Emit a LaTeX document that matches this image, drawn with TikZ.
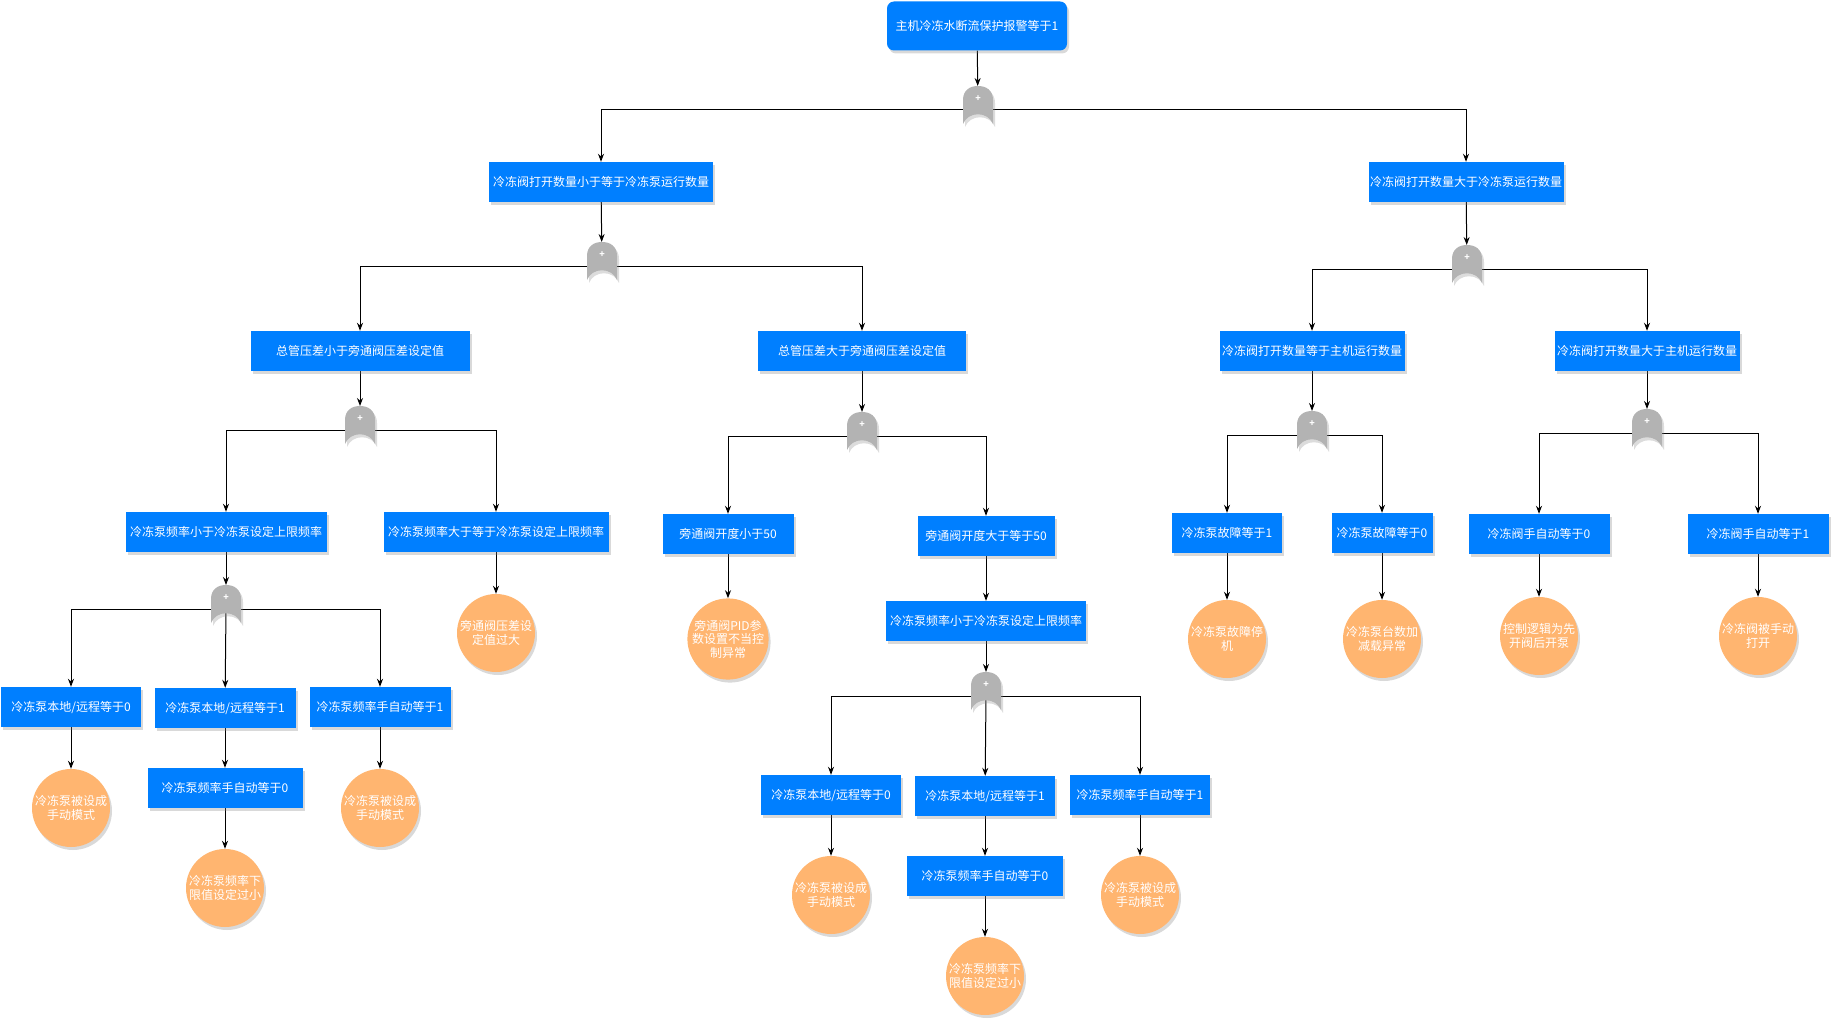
\documentclass[tikz,border=0pt]{standalone}
\usepackage{fontspec}
\setmainfont{Noto Sans CJK SC}
\usepackage{tikz}
\usetikzlibrary{backgrounds}
\usetikzlibrary{arrows.meta,shadows}

\definecolor{boxblue}{HTML}{007FFF}
\definecolor{leaforange}{HTML}{FFB570}
\definecolor{gategray}{HTML}{B3B3B3}

% or-gate outline, y axis pointing down
\newcommand{\gateshape}[3]{%
  \fill[#1,shift={(#2,#3)}] (-15,14) -- (-15,-10) .. controls (-15,-20) and (-8,-24) .. (0,-24)
    .. controls (8,-24) and (15,-20) .. (15,-10) -- (15,14) .. controls (10,1) and (-10,1) .. (-15,14) -- cycle;}
\newcommand{\orgate}[3]{%
  \gateshape{black!45,opacity=.3}{#2+2}{#3+3}
  \gateshape{gategray}{#2}{#3}
  \node[gate] (#1) at (#2,#3) {};}

\begin{document}
\begin{tikzpicture}[x=1pt,y=-1pt,font=\fontsize{12}{13.5}\selectfont,
box/.style={rectangle,fill=boxblue,text=white,minimum height=40,inner sep=1.5pt,
  drop shadow={shadow xshift=2pt,shadow yshift=-3pt,opacity=.3}},
topbox/.style={box,rounded corners=7pt,minimum height=49},
leaf/.style={circle,fill=leaforange,text=white,minimum size=78,inner sep=0pt,align=center,
  drop shadow={shadow xshift=2pt,shadow yshift=-3pt,opacity=.3}},
gate/.style={minimum width=30,minimum height=48,inner sep=0pt,outer sep=0pt,label={[plus]north:+}},
plus/.style={anchor=center,yshift=-13pt,text=white,font=\bfseries\fontsize{9}{9}\selectfont},
arr/.style={-{Stealth[length=8pt,width=6pt]},line width=1pt}]
\useasboundingbox (0,0) rectangle (1839,1027);

% top event
\node[topbox,minimum width=180] (top) at (977,26) {主机冷冻水断流保护报警等于1};
\orgate{g0}{978}{110}

% level 1
\node[box,minimum width=224] (A) at (601,182) {冷冻阀打开数量小于等于冷冻泵运行数量};
\node[box,minimum width=194] (B) at (1466,182) {冷冻阀打开数量大于冷冻泵运行数量};
\orgate{gA}{602}{266}
\orgate{gB}{1467}{269}

% level 2
\node[box,minimum width=219] (A1) at (360,351) {总管压差小于旁通阀压差设定值};
\node[box,minimum width=208] (A2) at (862,351) {总管压差大于旁通阀压差设定值};
\node[box,minimum width=185] (B1) at (1312,351) {冷冻阀打开数量等于主机运行数量};
\node[box,minimum width=185] (B2) at (1647,351) {冷冻阀打开数量大于主机运行数量};
\orgate{gA1}{360}{430}
\orgate{gA2}{862}{436}
\orgate{gB1}{1312}{435}
\orgate{gB2}{1647}{433}

% level 3
\node[box,minimum width=201] (A11) at (226,532) {冷冻泵频率小于冷冻泵设定上限频率};
\node[box,minimum width=225] (A12) at (496,532) {冷冻泵频率大于等于冷冻泵设定上限频率};
\node[box,minimum width=131] (A21) at (728,534) {旁通阀开度小于50};
\node[box,minimum width=137] (A22) at (986,536) {旁通阀开度大于等于50};
\node[box,minimum width=110] (B11) at (1227,533) {冷冻泵故障等于1};
\node[box,minimum width=101] (B12) at (1382,533) {冷冻泵故障等于0};
\node[box,minimum width=141] (B21) at (1539,534) {冷冻阀手自动等于0};
\node[box,minimum width=141] (B22) at (1758,534) {冷冻阀手自动等于1};

\node[leaf] (cA12) at (496,633) {旁通阀压差设\\定值过大};
\node[leaf] (cA21) at (728,639) {旁通阀PID参\\数设置不当控\\制异常};
\node[leaf] (cB11) at (1227,639) {冷冻泵故障停\\机};
\node[leaf] (cB12) at (1382,639) {冷冻泵台数加\\减载异常};
\node[leaf] (cB21) at (1539,636) {控制逻辑为先\\开阀后开泵};
\node[leaf] (cB22) at (1758,636) {冷冻阀被手动\\打开};
\node[box,minimum width=200] (A221) at (986,621) {冷冻泵频率小于冷冻泵设定上限频率};
\orgate{gA11}{226}{609}
\orgate{gA221}{986}{696}

% left bottom branch
\node[box,minimum width=140] (A111) at (71,707) {冷冻泵本地/远程等于0};
\node[box,minimum width=141] (A112) at (225,708) {冷冻泵本地/远程等于1};
\node[box,minimum width=141] (A113) at (380,707) {冷冻泵频率手自动等于1};
\node[box,minimum width=155] (A1121) at (225,788) {冷冻泵频率手自动等于0};
\node[leaf] (cA111) at (71,808) {冷冻泵被设成\\手动模式};
\node[leaf] (cA113) at (380,808) {冷冻泵被设成\\手动模式};
\node[leaf] (cA1121) at (225,888) {冷冻泵频率下\\限值设定过小};

% middle bottom branch
\node[box,minimum width=140] (A2211) at (831,795) {冷冻泵本地/远程等于0};
\node[box,minimum width=140] (A2212) at (985,796) {冷冻泵本地/远程等于1};
\node[box,minimum width=140] (A2213) at (1140,795) {冷冻泵频率手自动等于1};
\node[box,minimum width=156] (A22121) at (985,876) {冷冻泵频率手自动等于0};
\node[leaf] (cA2211) at (831,895) {冷冻泵被设成\\手动模式};
\node[leaf] (cA2213) at (1140,895) {冷冻泵被设成\\手动模式};
\node[leaf] (cA22121) at (985,976) {冷冻泵频率下\\限值设定过小};

\begin{scope}[on background layer]
\draw[arr] (top) -- (g0);
\draw[arr] (g0) -| (A);
\draw[arr] (g0) -| (B);
\draw[arr] (A) -- (gA);
\draw[arr] (B) -- (gB);
\draw[arr] (gA) -| (A1);
\draw[arr] (gA) -| (A2);
\draw[arr] (gB) -| (B1);
\draw[arr] (gB) -| (B2);
\draw[arr] (A1) -- (gA1);
\draw[arr] (A2) -- (gA2);
\draw[arr] (B1) -- (gB1);
\draw[arr] (B2) -- (gB2);
\draw[arr] (gA1) -| (A11);
\draw[arr] (gA1) -| (A12);
\draw[arr] (gA2) -| (A21);
\draw[arr] (gA2) -| (A22);
\draw[arr] (gB1) -| (B11);
\draw[arr] (gB1) -| (B12);
\draw[arr] (gB2) -| (B21);
\draw[arr] (gB2) -| (B22);
\draw[arr] (A12) -- (cA12);
\draw[arr] (A21) -- (cA21);
\draw[arr] (B11) -- (cB11);
\draw[arr] (B12) -- (cB12);
\draw[arr] (B21) -- (cB21);
\draw[arr] (B22) -- (cB22);
\draw[arr] (A22) -- (A221);
\draw[arr] (A11) -- (gA11);
\draw[arr] (A221) -- (gA221);
\draw[arr] (gA11) -| (A111);
\draw[arr] (gA11.center) -- (A112);
\draw[arr] (gA11) -| (A113);
\draw[arr] (A111) -- (cA111);
\draw[arr] (A112) -- (A1121);
\draw[arr] (A1121) -- (cA1121);
\draw[arr] (A113) -- (cA113);
\draw[arr] (gA221) -| (A2211);
\draw[arr] (gA221.center) -- (A2212);
\draw[arr] (gA221) -| (A2213);
\draw[arr] (A2211) -- (cA2211);
\draw[arr] (A2212) -- (A22121);
\draw[arr] (A22121) -- (cA22121);
\draw[arr] (A2213) -- (cA2213);
\end{scope}
\end{tikzpicture}
\end{document}
